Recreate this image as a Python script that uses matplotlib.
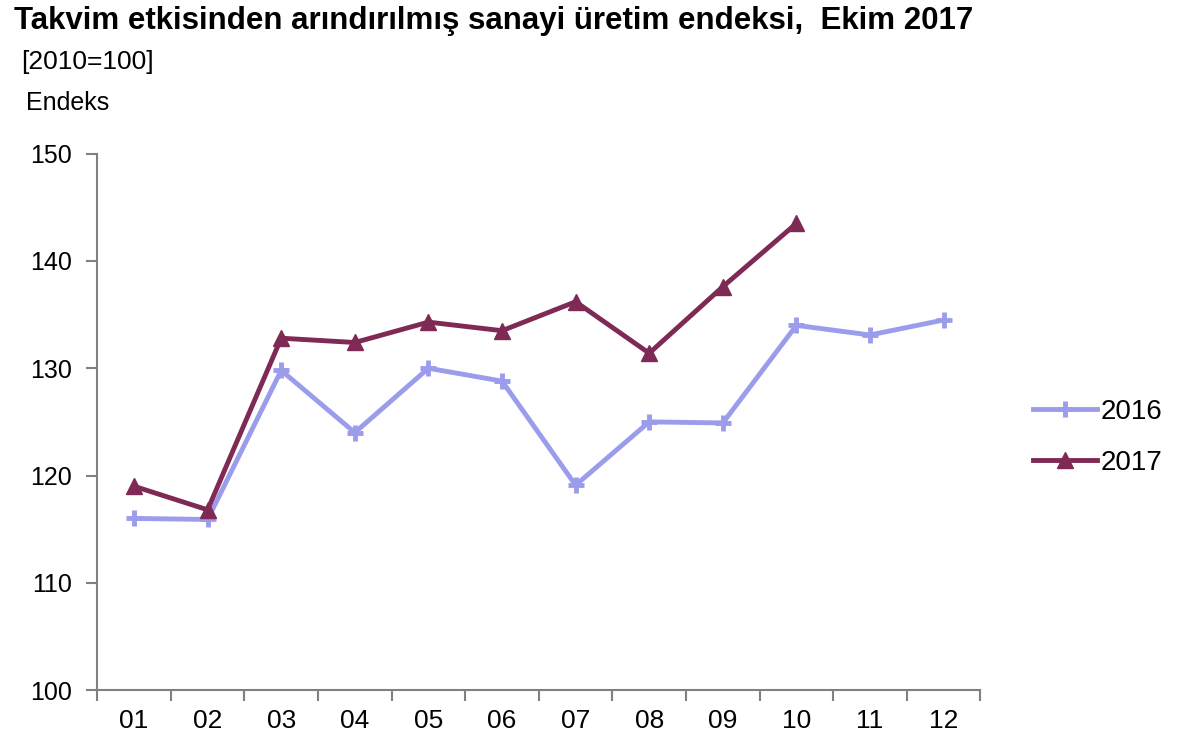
import matplotlib
matplotlib.use("Agg")
import matplotlib.pyplot as plt
import numpy as np

plt.rcParams['font.family'] = ['Liberation Sans', 'DejaVu Sans']

# Data
months = ["01", "02", "03", "04", "05", "06", "07", "08", "09", "10", "11", "12"]
values_2016 = [116.0, 115.9, 129.8, 124.0, 130.0, 128.8, 119.1, 125.0, 124.9, 134.0, 133.1, 134.5]
values_2017 = [119.0, 116.8, 132.8, 132.4, 134.3, 133.5, 136.2, 131.4, 137.6, 143.5]
y_ticks = [100, 110, 120, 130, 140, 150]

color_2016 = '#9C9CEC'
color_2017 = '#7E2A55'
axis_grey = '#808080'

fig = plt.figure(figsize=(12, 7.48), dpi=100)
ax = fig.add_axes([0.081, 0.0775, 0.736, 0.717])

x = np.arange(len(months))
ax.plot(x, values_2016, color=color_2016, linewidth=3.5, marker='+',
        markersize=12, markeredgewidth=3.5, label='2016')
ax.plot(x[:len(values_2017)], values_2017, color=color_2017, linewidth=3.5,
        marker='^', markersize=11, label='2017')

ax.set_xlim(-0.5, len(months) - 0.5)
ax.set_ylim(100, 150)
ax.set_yticks(y_ticks)
ax.set_xticks(x)
ax.set_xticklabels(months)
ax.set_xticks(np.arange(-0.5, len(months)), minor=True)

ax.tick_params(axis='x', which='major', length=0, pad=14, labelsize=19)
ax.tick_params(axis='x', which='minor', length=8, width=1.5, color=axis_grey, direction='out')
ax.tick_params(axis='y', which='major', length=8, width=1.5, color=axis_grey,
               direction='out', pad=10, labelsize=18)

for side in ['top', 'right']:
    ax.spines[side].set_visible(False)
for side in ['left', 'bottom']:
    ax.spines[side].set_color(axis_grey)
    ax.spines[side].set_linewidth(1.5)

fig.text(0.012, 0.972, "Takvim etkisinden arındırılmış sanayi üretim endeksi,  Ekim 2017",
         fontsize=22.5, fontweight='bold', ha='left', va='center')
fig.text(0.018, 0.917, "[2010=100]", fontsize=19, ha='left', va='center')
fig.text(0.022, 0.862, "Endeks", fontsize=18, ha='left', va='center')

ax.legend(loc='center left', bbox_to_anchor=(0.84, 0.415), bbox_transform=fig.transFigure,
          frameon=False, fontsize=20, handlelength=2.3, handletextpad=0.15, labelspacing=0.9)

fig.savefig("out.png", dpi=100)
